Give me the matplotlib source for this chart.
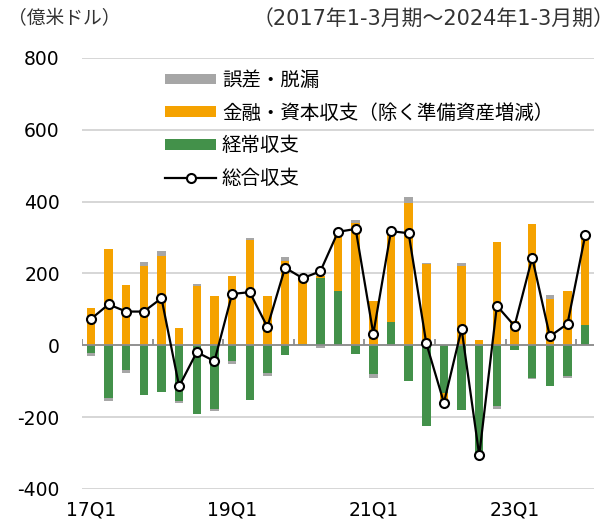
import numpy as np
import matplotlib
matplotlib.use("Agg")
import matplotlib.pyplot as plt
from matplotlib.patches import Patch
from matplotlib.lines import Line2D

plt.rcParams['font.family'] = ['DejaVu Sans', 'Noto Sans CJK JP']

quarters = ["17Q1", "17Q2", "17Q3", "17Q4", "18Q1", "18Q2", "18Q3", "18Q4",
            "19Q1", "19Q2", "19Q3", "19Q4", "20Q1", "20Q2", "20Q3", "20Q4",
            "21Q1", "21Q2", "21Q3", "21Q4", "22Q1", "22Q2", "22Q3", "22Q4",
            "23Q1", "23Q2", "23Q3", "23Q4", "24Q1"]
current_account = [-21, -148, -69, -139, -131, -155, -190, -177,
                   -44, -151, -77, -28, 5, 188, 151, -23,
                   -79, 65, -99, -224, -134, -181, -315, -169,
                   -14, -90, -113, -86, 56]
financial_account = [105, 269, 169, 222, 248, 48, 165, 138,
                     193, 294, 136, 236, 178, 5, 164, 341,
                     124, 253, 395, 227, -16, 222, 14, 289,
                     68, 338, 128, 150, 248]
errors_omissions = [-9, -8, -7, 11, 16, -6, 7, -5,
                    -8, 4, -9, 9, 0, -7, 0, 9,
                    -11, -3, 17, 3, -10, 6, 0, -9,
                    0, -5, 11, -5, 0]
overall_balance = [73, 114, 94, 94, 131, -114, -19, -44,
                   143, 148, 51, 216, 187, 206, 316, 324,
                   32, 318, 312, 6, -160, 46, -306, 110,
                   54, 244, 25, 60, 306]
tick_labels = ["17Q1", "19Q1", "21Q1", "23Q1"]

series = [
    ("経常収支", current_account, "#43914A"),
    ("金融・資本収支（除く準備資産増減）", financial_account, "#F5A200"),
    ("誤差・脱漏", errors_omissions, "#A6A6A6"),
]

fig = plt.figure(figsize=(6.14, 5.31), dpi=100)
ax = fig.add_axes([0.1336, 0.0791, 0.8338, 0.8117])

n = len(quarters)
x = np.arange(n)
pos_base = np.zeros(n)
neg_base = np.zeros(n)
for name, vals, col in series:
    v = np.array(vals, dtype=float)
    bottom = np.where(v >= 0, pos_base, neg_base)
    ax.bar(x, v, bottom=bottom, width=0.48, color=col, zorder=2, linewidth=0)
    pos_base = pos_base + np.where(v >= 0, v, 0)
    neg_base = neg_base + np.where(v < 0, v, 0)

ax.axhline(0, color="#8C8C8C", linewidth=1.3, zorder=3)
ax.vlines(np.arange(-0.5, n, 4), 0, 18, color="#8C8C8C", linewidth=1.3, zorder=3)

ax.plot(x, overall_balance, color="black", linewidth=1.6, marker="o",
        markersize=6.5, markerfacecolor="white", markeredgecolor="black",
        markeredgewidth=1.5, zorder=5)

ax.set_xlim(-0.5, n - 0.5)
ax.set_ylim(-400, 800)
ax.set_yticks(np.arange(-400, 801, 200))
ax.set_yticklabels([str(v) for v in range(-400, 801, 200)], fontsize=13.5)
ax.set_xticks([quarters.index(t) for t in tick_labels])
ax.set_xticklabels(tick_labels, fontsize=13.5)
ax.tick_params(axis='y', length=0, pad=16)
ax.tick_params(axis='x', length=0, pad=8)
ax.grid(axis='y', color="#D0D0D0", linewidth=1.2, zorder=0)
ax.set_axisbelow(True)
for s in ax.spines.values():
    s.set_visible(False)

handles = [
    Patch(facecolor="#A6A6A6", label="誤差・脱漏"),
    Patch(facecolor="#F5A200", label="金融・資本収支（除く準備資産増減）"),
    Patch(facecolor="#43914A", label="経常収支"),
    Line2D([0], [0], color="black", linewidth=1.6, marker="o", markersize=6.5,
           markerfacecolor="white", markeredgecolor="black", markeredgewidth=1.5,
           label="総合収支"),
]
ax.legend(handles=handles, loc="upper left", bbox_to_anchor=(0.163, 0.972),
          frameon=False, handlelength=2.6, handleheight=0.47,
          handletextpad=0.3, labelspacing=0.6, borderpad=0, borderaxespad=0,
          prop={'family': ['Noto Sans CJK JP', 'DejaVu Sans'], 'size': 14})

fig.text(8 / 614, 1 - 19 / 531, "（億米ドル）", fontsize=13.5, ha="left", va="center",
         family=['Noto Sans CJK JP', 'DejaVu Sans'], color="#333333")
fig.text(614 / 614, 1 - 20 / 531, "（2017年1-3月期～2024年1-3月期）", fontsize=15,
         ha="right", va="center", family=['DejaVu Sans', 'Noto Sans CJK JP'], color="#333333")

fig.savefig("out.png", dpi=100)
